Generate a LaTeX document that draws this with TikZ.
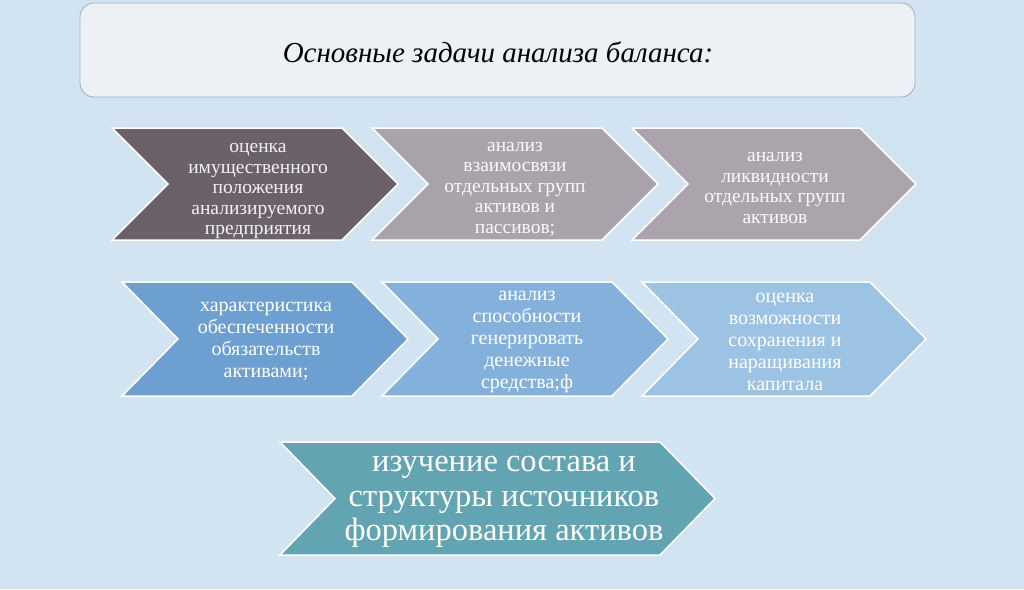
\documentclass[tikz,border=0pt]{standalone}
\usepackage{fontspec}
\setmainfont{Liberation Serif}
\definecolor{bgc}{HTML}{D2E4F2}
\definecolor{titlefill}{HTML}{EDF1F6}
\definecolor{titledraw}{HTML}{9FADBD}
\definecolor{cA}{HTML}{6A6169}
\definecolor{cB}{HTML}{ABA3AB}
\definecolor{cC}{HTML}{ACA4AC}
\definecolor{cD}{HTML}{6D9FD1}
\definecolor{cE}{HTML}{84B1DC}
\definecolor{cF}{HTML}{9CC3E4}
\definecolor{cG}{HTML}{62A4B1}
\newcommand{\mychev}[6]{% left, top, width, height, depth, colour
  \filldraw[fill=#6, draw=white, line width=1.5pt, line join=miter]
    (#1,#2) -- ++(#3-#5,0) -- ++(#5,#4/2) -- ++(-#5,#4/2) -- ++(-#3+#5,0) -- ++(#5,-#4/2) -- cycle;}
\tikzset{
  lbl/.style={align=center, text=white, inner sep=0pt, font=\fontsize{19.5}{20.5}\selectfont},
  lbltwo/.style={align=center, text=white, inner sep=0pt, font=\fontsize{20}{22}\selectfont},
  lblbig/.style={align=center, text=white, inner sep=0pt, font=\fontsize{32.5}{34.5}\selectfont},
}
\begin{document}
\begin{tikzpicture}[x=1pt, y=-1pt]
\useasboundingbox (0,0) rectangle (1024,589);
\fill[bgc] (0,0) rectangle (1024,589);
% title box
\filldraw[fill=titlefill, draw=titledraw, line width=0.8pt, rounded corners=14pt] (80,3) rectangle (915,97);
\node[font=\itshape\fontsize{29}{34}\selectfont, text=black, inner sep=0pt] (title) at (498,52) {Основные задачи анализа баланса:};
% row 1
\mychev{112}{128}{286}{112}{56}{cA}
\mychev{372}{128}{286}{112}{56}{cB}
\mychev{632}{128}{284}{112}{56}{cC}
\node[lbl, text=white!92!cA] (t1) at (258,191) {оценка\\имущественного\\положения\\анализируемого\\предприятия};
\node[lbl, text=white!94!cB] (t2) at (515,189) {анализ\\взаимосвязи\\отдельных групп\\активов и\\пассивов;};
\node[lbl, text=white!94!cC] (t3) at (775,188) {анализ\\ликвидности\\отдельных групп\\активов};
% row 2
\mychev{122}{282}{286}{114}{56}{cD}
\mychev{382}{282}{286}{114}{56}{cE}
\mychev{642}{282}{284}{114}{56}{cF}
\node[lbltwo] (t4) at (266,341) {характеристика\\обеспеченности\\обязательств\\активами;};
\node[lbltwo] (t5) at (527,342) {анализ\\способности\\генерировать\\денежные\\средства;ф};
\node[lbltwo] (t6) at (785,342) {оценка\\возможности\\сохранения и\\наращивания\\капитала};
% row 3
\mychev{280}{442}{435}{113}{55}{cG}
\node[lblbig] (t7) at (504,502) {изучение состава и\\структуры источников\\формирования активов};
\end{tikzpicture}
\end{document}
